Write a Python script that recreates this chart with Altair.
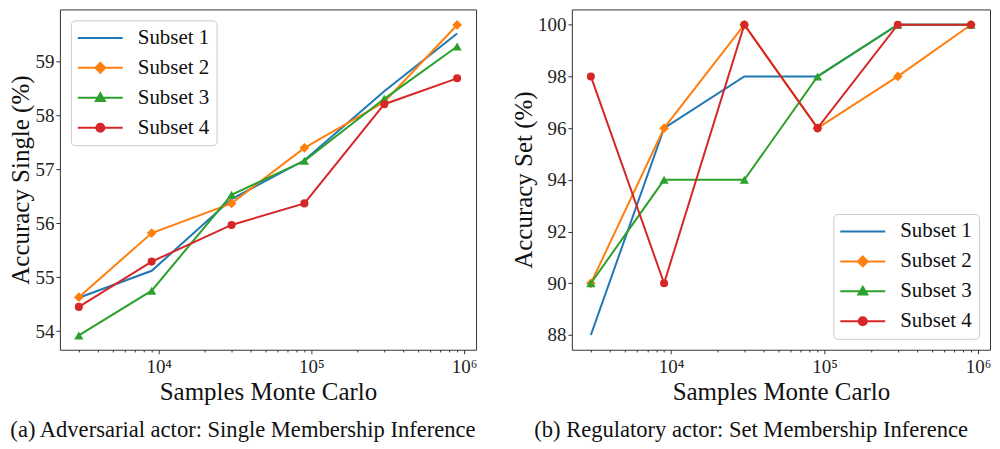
import altair as alt
import pandas as pd

# ---- data ----
samples = [3000, 9000, 30000, 90000, 300000, 900000]
subsets = ["Subset 1", "Subset 2", "Subset 3", "Subset 4"]

single_subset1 = [54.62, 55.12, 56.45, 57.17, 58.45, 59.52]
single_subset2 = [54.63, 55.82, 56.37, 57.40, 58.25, 59.68]
single_subset3 = [53.92, 54.75, 56.53, 57.16, 58.31, 59.28]
single_subset4 = [54.45, 55.29, 55.97, 56.37, 58.21, 58.69]

set_subset1 = [88, 96, 98, 98, 100, 100]
set_subset2 = [90, 96, 100, 96, 98, 100]
set_subset3 = [90, 94, 94, 98, 100, 100]
set_subset4 = [98, 90, 100, 96, 100, 100]

major_ticks = [1e4, 1e5, 1e6]
minor_ticks = [3000, 4000, 5000, 6000, 7000, 8000, 9000,
               20000, 30000, 40000, 50000, 60000, 70000, 80000, 90000,
               200000, 300000, 400000, 500000, 600000, 700000, 800000, 900000]
single_yticks = [54, 55, 56, 57, 58, 59]
set_yticks = [88, 90, 92, 94, 96, 98, 100]

# ---- styles ----
colors = ["#1f77b4", "#ff7f0e", "#2ca02c", "#d62728"]
point_shapes = [None, "diamond", "triangle-up", "circle"]
point_sizes = [0, 95, 85, 65]
legend_paths = [
    "M-2.5,0H2.5",
    "M-2.5,0H2.5M0,-0.55L0.55,0L0,0.55L-0.55,0Z",
    "M-2.5,0H2.5M0,-0.5L0.5,0.35L-0.5,0.35Z",
    "M-2.5,0H2.5M-0.45,0A0.45,0.45 0 1,0 0.45,0A0.45,0.45 0 1,0 -0.45,0Z",
]
FONT = "Liberation Serif"
X_DOMAIN = [2255, 1197000]


def long_frame(series_list):
    rows = []
    for name, vals in zip(subsets, series_list):
        for s, v in zip(samples, vals):
            rows.append({"samples": s, "acc": v, "subset": name})
    return pd.DataFrame(rows)


def panel(df, ydomain, yticks, ytitle, legend_orient, caption, width):
    xscale = alt.Scale(type="log", domain=X_DOMAIN, nice=False)
    yscale = alt.Scale(domain=ydomain, nice=False, zero=False)
    major_axis = alt.Axis(
        orient="bottom", values=major_ticks,
        labelExpr="datum.value == 10000 ? '10⁴' : datum.value == 100000 ? '10⁵' : '10⁶'",
        tickSize=4, title="Samples Monte Carlo", titlePadding=3, labelPadding=4,
    )
    minor_axis = alt.Axis(orient="bottom", values=minor_ticks, labels=False, tickSize=2.2, title=None)
    y_axis = alt.Axis(orient="left", values=yticks, title=ytitle, tickSize=4, labelPadding=2, titlePadding=1)
    base = alt.Chart(df)
    layers = []
    for i, s in enumerate(subsets):
        sub = base.transform_filter(alt.datum.subset == s)
        if i == 0:
            xa = major_axis
        elif i == 1:
            xa = minor_axis
        else:
            xa = None
        layers.append(
            sub.mark_line(color=colors[i], strokeWidth=2).encode(
                x=alt.X("samples:Q", scale=xscale, axis=xa),
                y=alt.Y("acc:Q", scale=yscale, axis=y_axis if i == 0 else None),
            )
        )
        if point_shapes[i]:
            layers.append(
                sub.mark_point(filled=True, shape=point_shapes[i], size=point_sizes[i],
                               color=colors[i], opacity=1).encode(
                    x=alt.X("samples:Q", scale=xscale, axis=None),
                    y=alt.Y("acc:Q", scale=yscale, axis=None),
                )
            )
    leg = dict(
        orient=legend_orient, title=None, offset=11, padding=7,
        fillColor="white", strokeColor="#cccccc", cornerRadius=4,
        labelFont=FONT, labelFontSize=21, labelColor="#111",
        symbolSize=324, symbolStrokeWidth=2, symbolOffset=12, labelOffset=27,
        rowPadding=8, symbolOpacity=1,
    )
    legend_layer = base.transform_filter("false").mark_point(filled=True, strokeWidth=2, opacity=1).encode(
        x=alt.X("samples:Q", scale=xscale, axis=None),
        y=alt.Y("acc:Q", scale=yscale, axis=None),
        color=alt.Color("subset:N", scale=alt.Scale(domain=subsets, range=colors), legend=alt.Legend(**leg)),
        stroke=alt.Stroke("subset:N", scale=alt.Scale(domain=subsets, range=colors), legend=alt.Legend(**leg)),
        shape=alt.Shape("subset:N", scale=alt.Scale(domain=subsets, range=legend_paths), legend=alt.Legend(**leg)),
    )
    layers.append(legend_layer)
    return alt.layer(*layers).resolve_axis(x="independent", y="independent").properties(
        width=width, height=341,
        title=alt.TitleParams(text=caption, orient="bottom", anchor="middle", frame="bounds",
                              font=FONT, fontSize=22.6, fontWeight="normal", color="#111", offset=14),
    )


left = panel(long_frame([single_subset1, single_subset2, single_subset3, single_subset4]),
             [53.655, 59.968], single_yticks, "Accuracy Single (%)", "top-left",
             "(a) Adversarial actor: Single Membership Inference", 417)
right = panel(long_frame([set_subset1, set_subset2, set_subset3, set_subset4]),
              [87.43, 100.59], set_yticks, "Accuracy Set (%)", "bottom-right",
              "(b) Regulatory actor: Set Membership Inference", 419)

chart = alt.hconcat(left, right, spacing=96, bounds="flush").configure(
    padding={"left": 0, "top": 0, "right": 0, "bottom": 0},
    background="white",
).configure_view(stroke="#333333", strokeWidth=1).configure_axis(
    labelFont=FONT, labelFontSize=19, labelColor="#222222",
    titleFont=FONT, titleFontSize=25, titleFontWeight="normal", titleColor="#111111",
    tickColor="#333333", domain=False, grid=False,
)

chart.save("out.html", embed_options={"renderer": "svg", "actions": False})
